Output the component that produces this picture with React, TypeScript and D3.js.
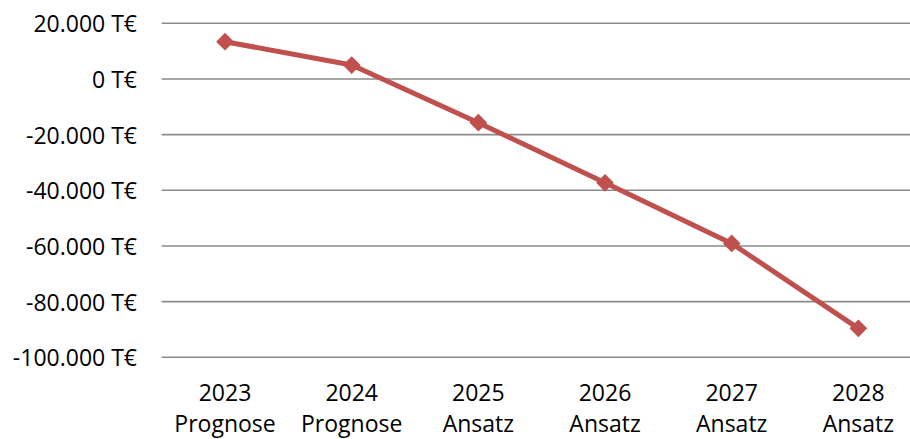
import React from "react";
import * as d3 from "d3";

const years = ["2023", "2024", "2025", "2026", "2027", "2028"];
const stages = ["Prognose", "Prognose", "Ansatz", "Ansatz", "Ansatz", "Ansatz"];
const values = [13400, 5000, -15700, -37300, -59100, -89600];
const yTicks = [20000, 0, -20000, -40000, -60000, -80000, -100000];

const W = 910;
const H = 439;
const plotLeft = 161.7;
const plotRight = 921.7;
const plotTop = 23.3;
const plotBottom = 357.3;
const red = "#C0504D";
const font = "'Open Sans', 'Noto Sans', sans-serif";

const fmt = (v: number) => {
  const s = d3.format(",")(v).replace(/,/g, ".").replace("−", "-");
  return `${s} T€`;
};

export default function App() {
  const x = d3.scaleBand<string>().domain(years).range([plotLeft, plotRight]);
  const y = d3.scaleLinear().domain([-100000, 20000]).range([plotBottom, plotTop]);
  const cx = (i: number) => (x(years[i]) as number) + x.bandwidth() / 2;

  const line = d3
    .line<number>()
    .x((_, i) => cx(i))
    .y((d) => y(d));

  const diamond = d3.symbol().type(d3.symbolDiamond2).size(200)();

  return (
    <svg
      width={W}
      height={H}
      style={{ position: "absolute", left: 0, top: 0, background: "#fff" }}
      fontFamily={font}
    >
      {yTicks.map((t) => (
        <g key={t}>
          <line x1={plotLeft} x2={W} y1={y(t)} y2={y(t)} stroke="#8a8a8a" strokeWidth={1.6} />
          <text
            x={137}
            y={y(t)}
            textAnchor="end"
            dominantBaseline="central"
            fontSize={23}
            fill="#000"
          >
            {fmt(t)}
          </text>
        </g>
      ))}
      {years.map((yr, i) => (
        <g key={yr}>
          <text x={cx(i)} y={401} textAnchor="middle" fontSize={23}>
            {yr}
          </text>
          <text x={cx(i)} y={432} textAnchor="middle" fontSize={23}>
            {stages[i]}
          </text>
        </g>
      ))}
      <path d={line(values) ?? ""} fill="none" stroke={red} strokeWidth={5} strokeLinejoin="round" />
      {values.map((v, i) => (
        <path key={i} d={diamond ?? ""} transform={`translate(${cx(i)},${y(v)})`} fill={red} />
      ))}
    </svg>
  );
}
